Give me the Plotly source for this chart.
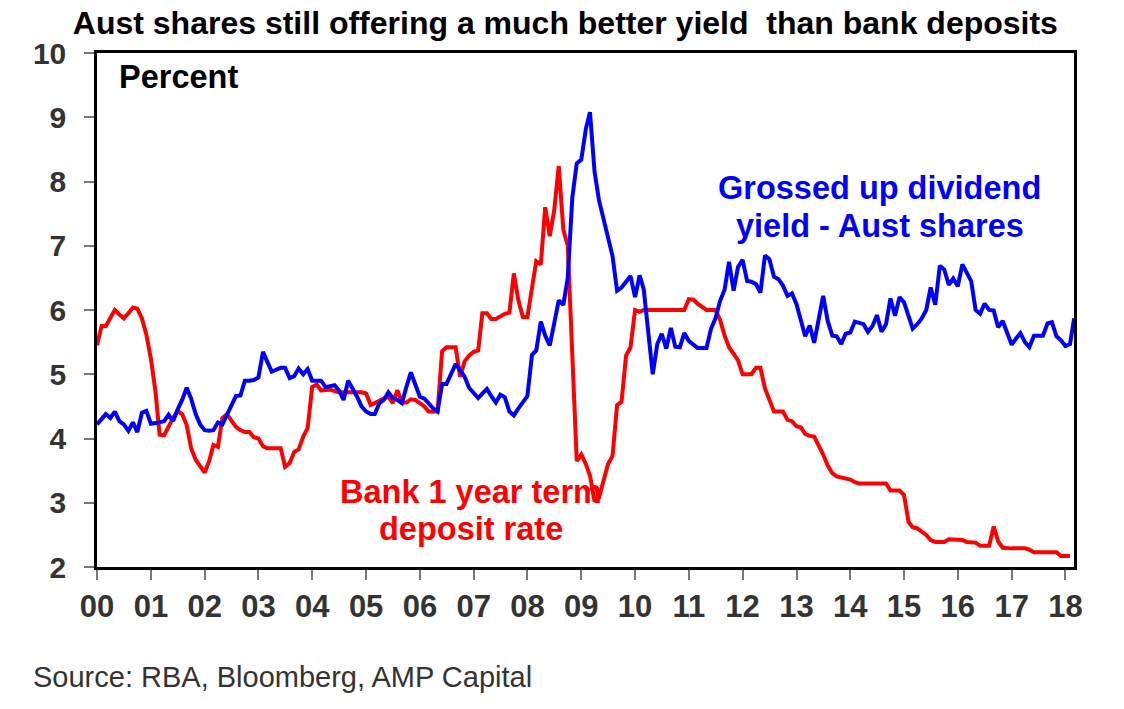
import plotly.graph_objects as go
import pandas as pd

# monthly observations, Jan 2000 onwards
months = pd.date_range("2000-01-01", periods=219, freq="MS")

dividend_yield = [
    4.22, 4.30, 4.38, 4.32, 4.42, 4.27, 4.22, 4.12, 4.25, 4.10, 4.40, 4.43,  # 2000
    4.23, 4.24, 4.25, 4.27, 4.37, 4.27, 4.45, 4.60, 4.79, 4.62, 4.38, 4.22,  # 2001
    4.13, 4.12, 4.13, 4.25, 4.22, 4.36, 4.50, 4.66, 4.67, 4.90, 4.90, 4.91,  # 2002
    4.95, 5.35, 5.20, 5.04, 5.07, 5.10, 5.10, 4.94, 4.97, 5.09, 5.00, 5.08,  # 2003
    4.90, 4.90, 4.90, 4.80, 4.82, 4.83, 4.75, 4.60, 4.90, 4.79, 4.65, 4.50,  # 2004
    4.42, 4.38, 4.38, 4.55, 4.60, 4.72, 4.63, 4.60, 4.55, 4.80, 5.03, 4.84,  # 2005
    4.65, 4.62, 4.55, 4.47, 4.42, 4.85, 4.85, 5.00, 5.16, 5.06, 4.96, 4.79,  # 2006
    4.70, 4.63, 4.70, 4.77, 4.66, 4.56, 4.68, 4.64, 4.42, 4.36, 4.47, 4.57,  # 2007
    4.66, 5.30, 5.37, 5.82, 5.60, 5.45, 5.81, 6.15, 6.08, 6.50, 7.75, 8.28,  # 2008
    8.34, 8.82, 9.08, 8.15, 7.71, 7.40, 7.10, 6.84, 6.30, 6.35, 6.44, 6.53,  # 2009
    6.20, 6.54, 6.32, 5.60, 5.00, 5.47, 5.63, 5.40, 5.72, 5.43, 5.42, 5.64,  # 2010
    5.52, 5.46, 5.41, 5.41, 5.41, 5.71, 5.87, 6.14, 6.32, 6.75, 6.30, 6.67,  # 2011
    6.78, 6.45, 6.44, 6.40, 6.27, 6.85, 6.79, 6.52, 6.48, 6.38, 6.22, 6.26,  # 2012
    6.09, 5.83, 5.59, 5.76, 5.49, 5.86, 6.22, 5.83, 5.60, 5.59, 5.47, 5.63,  # 2013
    5.65, 5.82, 5.80, 5.78, 5.66, 5.75, 5.92, 5.66, 5.78, 6.18, 5.91, 6.20,  # 2014
    6.12, 5.89, 5.71, 5.78, 5.87, 6.00, 6.35, 6.08, 6.69, 6.63, 6.39, 6.49,  # 2015
    6.37, 6.71, 6.58, 6.45, 6.00, 5.94, 6.10, 6.00, 5.99, 5.73, 5.83, 5.66,  # 2016
    5.46, 5.56, 5.64, 5.50, 5.42, 5.60, 5.60, 5.60, 5.79, 5.81, 5.59, 5.53,  # 2017
    5.44, 5.47, 5.87,                                                        # 2018
]

term_deposit = [
    5.45, 5.75, 5.75, 5.88, 6.00, 5.93, 5.87, 5.95, 6.04, 6.02, 5.87, 5.62,  # 2000
    5.24, 4.73, 4.06, 4.05, 4.20, 4.32, 4.43, 4.38, 4.21, 3.85, 3.67, 3.57,  # 2001
    3.47, 3.65, 3.90, 3.87, 4.32, 4.38, 4.27, 4.18, 4.13, 4.10, 4.10, 4.02,  # 2002
    4.00, 3.88, 3.85, 3.85, 3.85, 3.85, 3.56, 3.62, 3.79, 3.83, 4.03, 4.16,  # 2003
    4.80, 4.84, 4.75, 4.75, 4.76, 4.74, 4.72, 4.72, 4.72, 4.72, 4.72, 4.72,  # 2004
    4.70, 4.52, 4.55, 4.59, 4.62, 4.65, 4.55, 4.75, 4.56, 4.56, 4.61, 4.60,  # 2005
    4.55, 4.50, 4.42, 4.42, 4.42, 5.36, 5.42, 5.42, 5.42, 4.96, 5.20, 5.29,  # 2006
    5.35, 5.37, 5.95, 5.95, 5.86, 5.86, 5.90, 5.94, 5.96, 6.57, 6.15, 5.89,  # 2007
    5.89, 6.38, 6.76, 6.71, 7.60, 7.15, 7.55, 8.24, 7.25, 7.00, 5.30, 3.65,  # 2008
    3.75, 3.60, 3.42, 3.02, 3.08, 3.36, 3.60, 3.73, 4.52, 4.57, 5.29, 5.42,  # 2009
    6.00, 5.97, 6.00, 6.00, 6.00, 6.00, 6.00, 6.00, 6.00, 6.00, 6.00, 6.00,  # 2010
    6.17, 6.16, 6.10, 6.04, 6.00, 6.00, 6.00, 5.85, 5.60, 5.42, 5.32, 5.22,  # 2011
    5.00, 5.00, 5.00, 5.10, 5.10, 4.78, 4.60, 4.42, 4.42, 4.42, 4.29, 4.27,  # 2012
    4.19, 4.17, 4.07, 4.04, 4.03, 3.90, 3.75, 3.58, 3.46, 3.41, 3.39, 3.38,  # 2013
    3.36, 3.32, 3.30, 3.30, 3.30, 3.30, 3.30, 3.30, 3.30, 3.19, 3.19, 3.19,  # 2014
    3.12, 2.70, 2.62, 2.60, 2.55, 2.50, 2.42, 2.39, 2.39, 2.39, 2.43, 2.43,  # 2015
    2.43, 2.42, 2.39, 2.39, 2.38, 2.33, 2.33, 2.33, 2.63, 2.40, 2.30, 2.29,  # 2016
    2.29, 2.29, 2.29, 2.29, 2.27, 2.23, 2.23, 2.23, 2.23, 2.23, 2.23, 2.17,  # 2017
    2.17, 2.17, None,                                                        # 2018
]

year_ticks = [f"{y}-01-01" for y in range(2000, 2019)]
year_labels = ["00", "01", "02", "03", "04", "05", "06", "07", "08", "09",
               "10", "11", "12", "13", "14", "15", "16", "17", "18"]

FONT = "Liberation Sans, Arial, sans-serif"
BLUE = "#0000FF"
RED = "#FF0000"

fig = go.Figure()

fig.add_trace(go.Scatter(x=months, y=term_deposit, mode="lines",
                         name="Bank 1 year term deposit rate",
                         line=dict(color=RED, width=4)))
fig.add_trace(go.Scatter(x=months, y=dividend_yield, mode="lines",
                         name="Grossed up dividend yield - Aust shares",
                         line=dict(color=BLUE, width=4)))

fig.update_layout(
    width=1124,
    height=709,
    margin=dict(l=97, r=50, t=53, b=142),
    paper_bgcolor="white",
    plot_bgcolor="white",
    showlegend=False,
    title=dict(
        text="<b>Aust shares still offering a much better yield&nbsp;&nbsp;than bank deposits</b>",
        font=dict(family=FONT, size=32, color="black"),
        x=0.503, xanchor="center", xref="container",
        y=0.968, yanchor="middle", yref="container",
    ),
)

fig.update_xaxes(
    type="date",
    range=["2000-01-01", "2018-02-28"],
    tickvals=year_ticks,
    ticktext=year_labels,
    tickfont=dict(family=FONT, size=31, color="#333333", weight="bold"),
    ticks="outside", ticklen=10, tickwidth=1.5, tickcolor="#777777",
    showline=True, linecolor="black", linewidth=2.5, mirror=True,
    showgrid=False, zeroline=False,
)

fig.update_yaxes(
    range=[2, 10],
    tickvals=[2, 3, 4, 5, 6, 7, 8, 9, 10],
    tickfont=dict(family=FONT, size=30, color="#333333", weight="bold"),
    ticks="outside", ticklen=10, tickwidth=1.5, tickcolor="#777777",
    ticklabelstandoff=12,
    showline=True, linecolor="black", linewidth=2.5, mirror=True,
    showgrid=False, zeroline=False,
)

notes = [
    ("Percent", 0.0205, 0.953, "left", "black"),
    ("Grossed up dividend", 0.801, 0.737, "center", BLUE),
    ("yield - Aust shares", 0.801, 0.663, "center", BLUE),
    ("Bank 1 year term", 0.383, 0.146, "center", RED),
    ("deposit rate", 0.383, 0.074, "center", RED),
]
for text, x, y, anchor, color in notes:
    fig.add_annotation(text=f"<b>{text}</b>", x=x, y=y, xref="paper", yref="paper",
                       xanchor=anchor, yanchor="middle", showarrow=False,
                       font=dict(family=FONT, size=32.5, color=color))

fig.add_annotation(text="Source: RBA, Bloomberg, AMP Capital",
                   x=-0.0676, y=-0.214, xref="paper", yref="paper",
                   xanchor="left", yanchor="middle", showarrow=False,
                   font=dict(family=FONT, size=29, color="#333333"))

# drop the browser's default body margin so the figure fills the window exactly
fig.write_html("out.html", config={"displayModeBar": False},
               post_script="document.body.style.margin = '0';")
